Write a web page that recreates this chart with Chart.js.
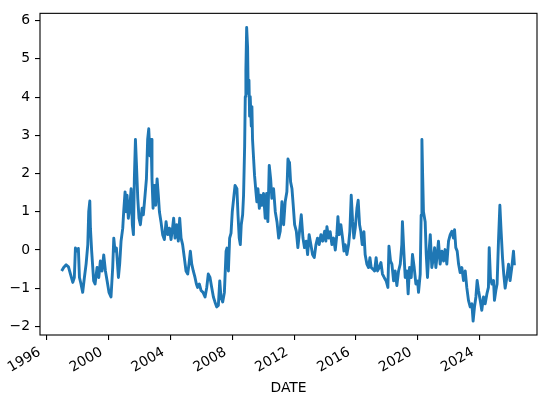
<!DOCTYPE html>
<html>
<head>
<meta charset="utf-8">
<script src="https://cdn.jsdelivr.net/npm/chart.js@4.4.1/dist/chart.umd.min.js"></script>
<style>
  html, body { margin: 0; padding: 0; background: #ffffff; }
  #c { display: block; }
</style>
</head>
<body>
<canvas id="c" width="546" height="405"></canvas>
<script>
// ---- Data (decimal year, value) ----
const dates = [
  1996.97,1997.10,1997.26,1997.41,1997.54,1997.69,1997.79,1997.86,1997.97,1998.05,
  1998.12,1998.22,1998.33,1998.44,1998.55,1998.66,1998.72,1998.79,1998.83,1998.91,
  1999.04,1999.13,1999.26,1999.37,1999.47,1999.58,1999.69,1999.80,1999.91,2000.03,
  2000.16,2000.27,2000.34,2000.42,2000.51,2000.64,2000.72,2000.81,2000.92,2000.98,
  2001.07,2001.13,2001.20,2001.28,2001.37,2001.46,2001.54,2001.61,2001.67,2001.74,
  2001.80,2001.89,2001.97,2002.06,2002.17,2002.25,2002.36,2002.45,2002.53,2002.60,
  2002.68,2002.75,2002.81,2002.88,2002.96,2003.05,2003.14,2003.22,2003.29,2003.39,
  2003.50,2003.61,2003.72,2003.83,2003.94,2004.04,2004.15,2004.21,2004.30,2004.41,
  2004.51,2004.60,2004.69,2004.79,2004.90,2005.01,2005.12,2005.20,2005.29,2005.38,
  2005.48,2005.59,2005.68,2005.76,2005.87,2005.98,2006.11,2006.24,2006.35,2006.45,
  2006.56,2006.67,2006.78,2006.88,2006.99,2007.10,2007.19,2007.27,2007.38,2007.49,
  2007.60,2007.66,2007.75,2007.83,2007.92,2008.00,2008.09,2008.18,2008.30,2008.37,
  2008.45,2008.52,2008.58,2008.67,2008.73,2008.80,2008.84,2008.88,2008.93,2008.99,
  2009.03,2009.08,2009.12,2009.16,2009.23,2009.27,2009.31,2009.38,2009.44,2009.53,
  2009.59,2009.66,2009.75,2009.83,2009.92,2010.02,2010.13,2010.22,2010.30,2010.39,
  2010.48,2010.56,2010.67,2010.78,2010.89,2011.00,2011.10,2011.21,2011.32,2011.42,
  2011.53,2011.60,2011.64,2011.70,2011.77,2011.86,2011.94,2012.03,2012.14,2012.24,
  2012.35,2012.46,2012.57,2012.67,2012.78,2012.87,2012.97,2013.08,2013.19,2013.30,
  2013.41,2013.51,2013.62,2013.73,2013.84,2013.97,2014.05,2014.12,2014.23,2014.33,
  2014.44,2014.55,2014.66,2014.76,2014.83,2014.91,2015.02,2015.13,2015.22,2015.30,
  2015.41,2015.52,2015.60,2015.69,2015.78,2015.86,2015.95,2016.06,2016.14,2016.23,
  2016.31,2016.40,2016.51,2016.59,2016.70,2016.81,2016.90,2016.98,2017.09,2017.20,
  2017.30,2017.39,2017.50,2017.61,2017.71,2017.82,2017.95,2018.06,2018.13,2018.23,
  2018.32,2018.43,2018.53,2018.64,2018.75,2018.86,2018.96,2019.00,2019.09,2019.18,
  2019.29,2019.37,2019.46,2019.57,2019.65,2019.76,2019.87,2019.98,2020.04,2020.15,
  2020.21,2020.26,2020.31,2020.36,2020.47,2020.54,2020.62,2020.69,2020.80,2020.90,
  2021.01,2021.08,2021.16,2021.25,2021.33,2021.44,2021.55,2021.66,2021.76,2021.87,
  2021.98,2022.09,2022.20,2022.30,2022.37,2022.45,2022.54,2022.63,2022.73,2022.84,
  2022.95,2023.06,2023.16,2023.27,2023.38,2023.49,2023.57,2023.66,2023.75,2023.83,
  2023.92,2024.03,2024.13,2024.24,2024.35,2024.46,2024.56,2024.61,2024.69,2024.78,
  2024.89,2024.95,2025.04,2025.12,2025.21,2025.30,2025.38,2025.47,2025.55,2025.64,
  2025.75,2025.86,2025.96,2026.07,2026.18,2026.24
];
const values = [
  -0.55,-0.46,-0.39,-0.44,-0.63,-0.85,-0.72,0.05,-0.03,0.04,
  -0.72,-0.89,-1.11,-0.72,-0.37,0.14,1.00,1.28,0.57,-0.03,
  -0.81,-0.89,-0.46,-0.72,-0.29,-0.55,-0.13,-0.55,-0.81,-1.11,
  -1.23,-0.46,0.31,-0.03,0.05,-0.72,-0.37,0.23,0.57,1.00,
  1.52,1.00,1.43,0.83,1.09,1.60,0.66,0.40,1.86,2.89,
  2.29,1.35,0.83,0.66,1.09,0.92,1.43,1.86,2.89,3.17,
  2.46,2.89,1.86,1.09,1.69,1.17,1.86,1.43,1.00,0.74,
  0.40,0.27,0.74,0.40,0.57,0.27,0.61,0.83,0.31,0.66,
  0.23,0.83,0.31,0.14,-0.20,-0.55,-0.63,-0.37,-0.03,-0.37,
  -0.55,-0.72,-0.89,-0.98,-0.89,-1.06,-1.11,-1.23,-0.98,-0.63,
  -0.72,-0.98,-1.23,-1.36,-1.49,-1.45,-0.81,-1.23,-1.36,-1.11,
  -0.03,0.05,-0.55,0.31,0.44,1.00,1.35,1.69,1.60,0.92,
  0.31,0.14,0.66,0.92,1.43,2.72,4.01,4.70,5.82,5.30,
  4.10,4.44,3.50,4.01,3.24,3.75,2.89,2.38,1.95,1.52,
  1.26,1.60,1.09,1.43,1.17,1.48,0.83,1.48,0.74,2.21,
  1.86,1.35,1.60,1.00,0.74,0.31,0.49,1.26,0.66,1.26,
  1.52,2.38,2.33,2.29,1.78,1.60,1.17,0.66,0.49,0.06,
  0.49,0.92,0.31,0.06,0.23,-0.12,0.40,0.14,-0.12,-0.20,
  0.14,0.31,0.14,0.40,0.23,0.49,0.23,0.61,0.31,0.48,
  0.14,0.31,0.00,0.40,0.87,0.40,0.66,0.31,-0.03,0.14,
  -0.12,0.14,0.48,1.43,0.74,0.31,0.57,1.09,1.30,0.66,
  0.48,0.14,0.48,-0.12,-0.37,-0.46,-0.20,-0.46,-0.50,-0.55,
  -0.20,-0.55,-0.46,-0.33,-0.63,-0.72,-0.81,-0.98,0.10,-0.29,
  -0.37,-0.81,-0.55,-0.93,-0.55,-0.37,0.14,0.74,-0.03,-0.72,
  -0.55,-1.15,-0.46,-0.72,-0.12,-0.46,-0.89,-0.81,-1.11,-0.63,
  0.91,2.89,1.90,1.00,0.74,-0.12,-0.72,-0.20,0.40,-0.46,
  -0.20,0.06,-0.46,-0.12,0.23,-0.37,-0.03,-0.29,0.01,-0.37,
  0.23,0.40,0.49,0.31,0.53,0.06,-0.03,-0.37,-0.59,-0.46,
  -0.80,-0.55,-0.98,-1.32,-1.49,-1.41,-1.86,-1.49,-1.23,-0.80,
  -1.06,-1.32,-1.58,-1.23,-1.41,-1.15,-0.98,0.06,-0.72,-0.89,
  -0.80,-1.32,-1.06,-0.89,0.23,1.17,0.49,-0.20,-0.63,-1.00,
  -0.72,-0.37,-0.80,-0.46,-0.03,-0.40
];
const xTickYears = [1996, 2000, 2004, 2008, 2012, 2016, 2020, 2024];
const yTickValues = [-2, -1, 0, 1, 2, 3, 4, 5, 6];
const xAxisTitle = 'DATE';

// ---- Chart ----
const FONT = { family: "'DejaVu Sans', sans-serif", size: 13.9 };
const points = dates.map((d, i) => ({ x: d, y: values[i] }));

const framePlugin = {
  id: 'frame',
  afterDraw(chart) {
    const a = chart.chartArea, ctx = chart.ctx;
    ctx.save();
    ctx.strokeStyle = '#000';
    ctx.lineWidth = 1.1;
    ctx.strokeRect(a.left, a.top, a.right - a.left, a.bottom - a.top);
    ctx.restore();
  }
};

new Chart(document.getElementById('c'), {
  type: 'line',
  data: {
    datasets: [{
      data: points,
      borderColor: '#1f77b4',
      borderWidth: 2.9,
      borderJoinStyle: 'round',
      pointRadius: 0,
      tension: 0,
      fill: false
    }]
  },
  options: {
    responsive: false,
    animation: false,
    devicePixelRatio: 1,
    layout: { padding: { top: 9, right: 9, left: 0, bottom: 0 } },
    plugins: { legend: { display: false }, tooltip: { enabled: false } },
    scales: {
      x: {
        type: 'linear',
        min: 1995.57,
        max: 2027.70,
        afterBuildTicks: s => { s.ticks = xTickYears.map(v => ({ value: v })); },
        afterFit: s => { s.height = 70; },
        border: { display: false },
        grid: { drawOnChartArea: false, drawTicks: true, tickLength: 5, color: '#000', lineWidth: 1.1 },
        ticks: {
          color: '#000',
          font: FONT,
          minRotation: 30,
          maxRotation: 30,
          autoSkip: false,
          padding: 4,
          labelOffset: -7,
          callback: v => String(v)
        },
        title: { display: true, text: xAxisTitle, color: '#000', font: FONT, padding: { top: 0, bottom: 8 } }
      },
      y: {
        type: 'linear',
        min: -2.225,
        max: 6.19,
        afterBuildTicks: s => { s.ticks = yTickValues.map(v => ({ value: v })); },
        afterFit: s => { s.width = 40; },
        border: { display: false },
        grid: { drawOnChartArea: false, drawTicks: true, tickLength: 5, color: '#000', lineWidth: 1.1 },
        ticks: {
          color: '#000',
          font: FONT,
          padding: 5,
          callback: v => (v < 0 ? '\u2212' + Math.abs(v) : String(v))
        }
      }
    }
  },
  plugins: [framePlugin]
});
</script>
</body>
</html>
